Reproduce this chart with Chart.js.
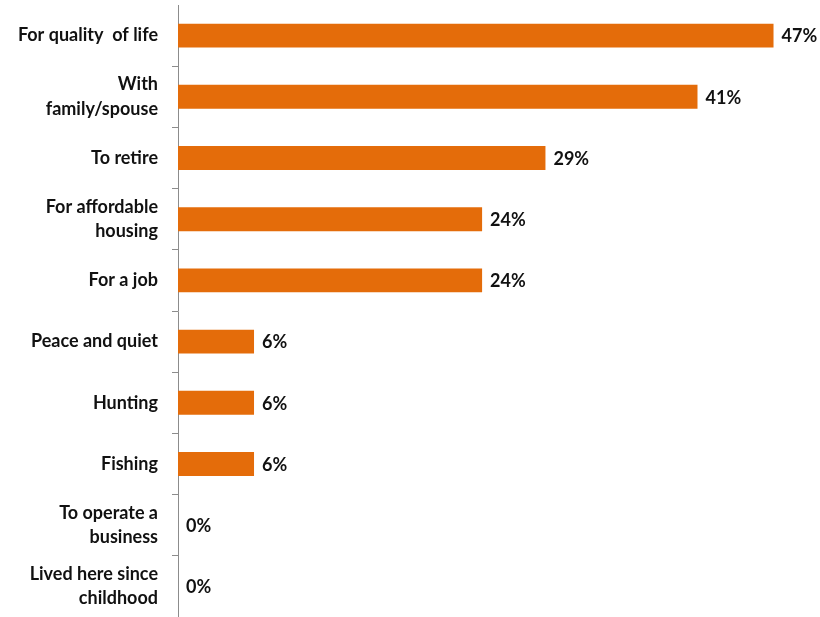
<!DOCTYPE html>
<html>
<head>
<meta charset="utf-8">
<title>Reasons for living here</title>
<script src="https://cdn.jsdelivr.net/npm/chart.js@4/dist/chart.umd.min.js"></script>
<style>
  html, body { margin: 0; padding: 0; background: #fff; }
  #wrap { width: 820px; height: 617px; position: relative; }
</style>
</head>
<body>
<div id="wrap"><canvas id="chart"></canvas></div>
<script>
(function(){
  var categories = [
    "For quality  of life",
    ["With", "family/spouse"],
    "To retire",
    ["For affordable", "housing"],
    "For a job",
    "Peace and quiet",
    "Hunting",
    "Fishing",
    ["To operate a", "business"],
    ["Lived here since", "childhood"]
  ];
  var percents = [47, 41, 29, 24, 24, 6, 6, 6, 0, 0];

  var BAR = "#e46c0a";
  var FONT = "Lato, 'Open Sans', sans-serif";

  // writes "NN%" just past the end of each bar
  var valueLabels = {
    id: "valueLabels",
    afterDatasetsDraw: function(chart){
      var ctx = chart.ctx;
      var meta = chart.getDatasetMeta(0);
      ctx.save();
      ctx.font = "bold 18px " + FONT;
      ctx.fillStyle = "#111";
      ctx.textAlign = "left";
      ctx.textBaseline = "middle";
      meta.data.forEach(function(bar, i){
        ctx.fillText(percents[i] + "%", bar.x + 8, bar.y + 1);
      });
      ctx.restore();
    }
  };

  new Chart(document.getElementById("chart"), {
    type: "bar",
    data: {
      labels: categories,
      datasets: [{
        data: percents,
        backgroundColor: BAR,
        borderWidth: 0,
        barPercentage: 0.39,
        categoryPercentage: 1
      }]
    },
    options: {
      indexAxis: "y",
      responsive: true,
      maintainAspectRatio: false,
      animation: false,
      layout: { padding: { top: 5, right: 11, bottom: 0, left: 0 } },
      plugins: { legend: { display: false }, tooltip: { enabled: false } },
      scales: {
        x: { display: false, min: 0, max: 49.8 },
        y: {
          afterFit: function(scale){
            scale.width = 178;
            // let the category labels run to the canvas edges
            scale.paddingTop = 0;
            scale.paddingBottom = 0;
          },
          border: { color: "#8c8c8c", width: 1 },
          grid: {
            offset: true,
            drawOnChartArea: false,
            tickLength: 6,
            color: function(c){ return c.index === 0 ? "rgba(0,0,0,0)" : "#8c8c8c"; }
          },
          ticks: {
            padding: 14,
            color: "#111",
            font: { family: FONT, size: 18, weight: "bold", lineHeight: 1.35 }
          }
        }
      }
    },
    plugins: [valueLabels]
  });
})();
</script>
</body>
</html>
